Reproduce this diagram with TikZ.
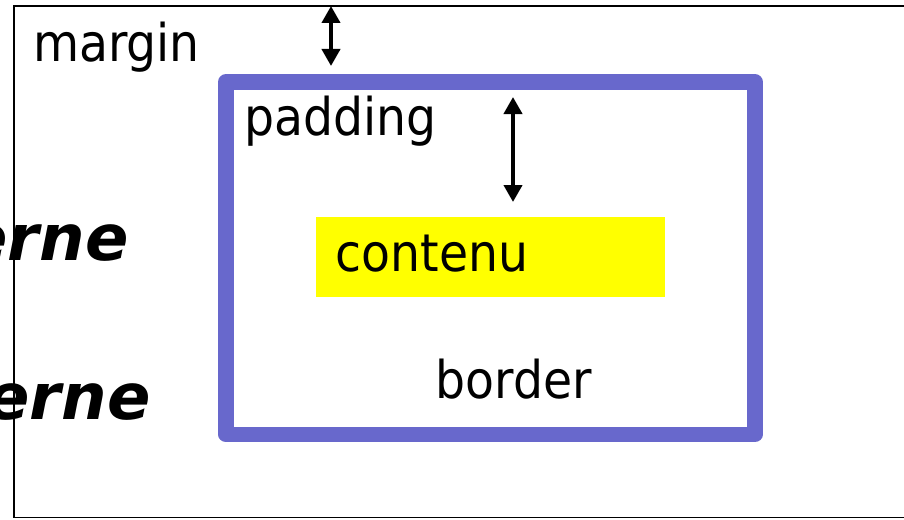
\documentclass[tikz,border=0pt]{standalone}
\usepackage{fontspec}
\setmainfont{DejaVu Sans}
\usetikzlibrary{arrows.meta}
\definecolor{borderblue}{RGB}{104,104,204}
\definecolor{contentyellow}{RGB}{255,255,0}
\tikzset{
  lbl/.style={inner sep=0pt, outer sep=0pt, font=\fontsize{52}{60}\selectfont},
  big/.style={inner sep=0pt, outer sep=0pt, font=\fontsize{64}{72}\selectfont\bfseries\itshape},
  dimarrow/.style={line width=4pt, {Triangle[length=17pt,width=18pt]}-{Triangle[length=17pt,width=18pt]}},
  outerbox/.style={draw=black, line width=1.5pt},
  borderbox/.style={draw=borderblue, line width=15.5pt, line join=round},
  contentbox/.style={fill=contentyellow, draw=none}
}
\newcommand{\sq}[1]{\scalebox{0.91}[1]{#1}}
\begin{document}
\begin{tikzpicture}[x=1pt,y=-1pt]
  \clip (0,0) rectangle (904,519);
  \fill[white] (0,0) rectangle (904,519);
  % margin box
  \draw[outerbox] (14,6) rectangle (912,517.5);
  % border box
  \draw[borderbox] (225.8,82) rectangle (755,434.3);
  % content
  \fill[contentbox] (316,217) rectangle (665,297);
  % texts
  \node[lbl, anchor=base west] (margin) at (33,61.7) {\sq{margin}};
  \node[lbl, anchor=base west] (padding) at (244,135) {\sq{padding}};
  \node[lbl, anchor=base west] (contenu) at (335.5,271) {\sq{contenu}};
  \node[lbl, anchor=base east] (border) at (592,398) {\sq{border}};
  \node[big, anchor=base east] (ext1) at (128.5,260) {erne};
  \node[big, anchor=base east] (ext2) at (150.5,419) {erne};
  % arrows
  \coordinate (m1) at (331,6);
  \coordinate (m2) at (331,66);
  \coordinate (p1) at (513,97);
  \coordinate (p2) at (513,202);
  \draw[dimarrow] (m1) -- (m2);
  \draw[dimarrow] (p1) -- (p2);
\end{tikzpicture}
\end{document}
